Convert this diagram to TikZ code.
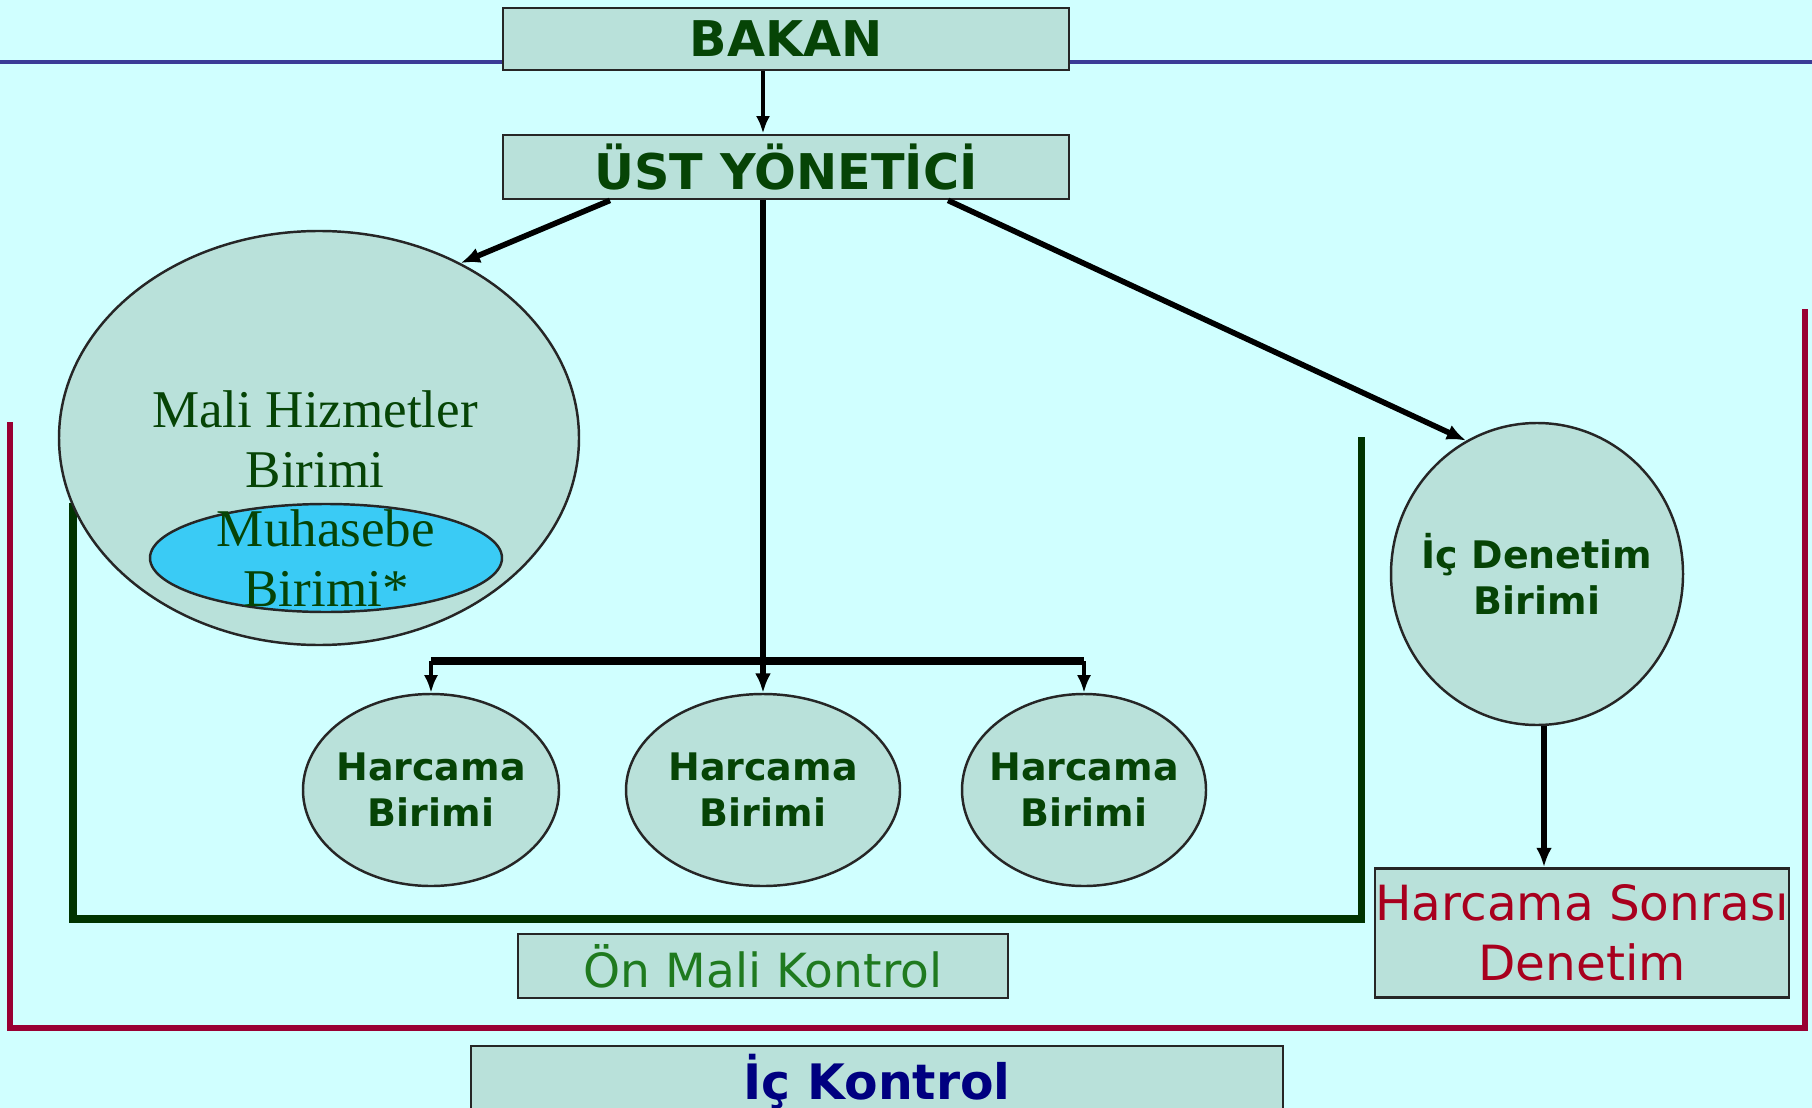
\documentclass[tikz,border=0pt]{standalone}
\usepackage{fontspec}
\setmainfont{DejaVu Sans}
\newfontfamily\mhfont{Liberation Serif}
\usetikzlibrary{shapes.geometric,arrows.meta}

\definecolor{bgcyan}{HTML}{D0FFFF}
\definecolor{boxfill}{HTML}{B9E1DA}
\definecolor{dkgreen}{HTML}{064406}
\definecolor{ongreen}{HTML}{1F7A1F}
\definecolor{bracketgreen}{HTML}{003300}
\definecolor{icred}{HTML}{990033}
\definecolor{hsred}{HTML}{A8001E}
\definecolor{lineblue}{HTML}{3B3B96}
\definecolor{icnavy}{HTML}{000080}
\definecolor{muhcyan}{HTML}{3ACBF5}

\tikzset{
  box/.style={draw=black!85, fill=boxfill, line width=0.8pt, rectangle, inner sep=0pt},
  oval/.style={draw=black!85, fill=boxfill, line width=0.7pt, ellipse, inner sep=0pt},
  head/.style={font=\bfseries\fontsize{14}{16}\selectfont, text=dkgreen},
  unit/.style={font=\bfseries\fontsize{10.8}{13.1}\selectfont, text=dkgreen, align=center},
  serifunit/.style={font=\mhfont\fontsize{15.1}{17.1}\selectfont, text=dkgreen, align=center},
  arr/.style={-{Latex[length=5pt,width=4pt]}, line width=1.1pt},
  bigarr/.style={-{Latex[length=5.5pt,width=4.5pt]}, line width=1.6pt}
}

\begin{document}
\begin{tikzpicture}[x=0.1mm, y=-0.1mm]

    \fill[bgcyan] (0,0) rectangle (1812,1108);
    \useasboundingbox (0,0) rectangle (1812,1108);

    % Brackets
    \draw[icred, line width=1.8pt] (10,422) -- (10,1028) -- (1805,1028) -- (1805,309);
    \draw[bracketgreen, line width=2pt] (73,503) -- (73,919) -- (1361,919) -- (1361,437);

    % Nodes
    \node [box, head, minimum width=56.6mm, minimum height=6.2mm] (bakan) at (786,39) {BAKAN};
    \node [box, head, minimum width=56.6mm, minimum height=6.4mm] (ust) at (786,167) {ÜST YÖNETİCİ};

    \node [oval, minimum width=52mm, minimum height=41.4mm] (mhb) at (319,438) {};
    \node [serifunit] (mhb-txt) at (315,439) {Mali Hizmetler\\Birimi};
    \node [oval, fill=muhcyan, minimum width=35.2mm, minimum height=10.8mm] (muh) at (326,558) {};
    \node [serifunit] (muh-txt) at (muh) {Muhasebe\\Birimi*};

    \node [oval, minimum width=25.6mm, minimum height=19.2mm] (hb1) at (431,790) {};
    \node [unit] (hb1-txt) at (hb1) {Harcama\\Birimi};
    \node [oval, minimum width=27.4mm, minimum height=19.2mm] (hb2) at (763,790) {};
    \node [unit] (hb2-txt) at (hb2) {Harcama\\Birimi};
    \node [oval, minimum width=24.4mm, minimum height=19.2mm] (hb3) at (1084,790) {};
    \node [unit] (hb3-txt) at (hb3) {Harcama\\Birimi};

    \node [oval, minimum width=29.2mm, minimum height=30.2mm] (icd) at (1537,574) {};
    \node [unit] (icd-txt) at (icd) {İç Denetim\\Birimi};

    \node [box, minimum width=41.4mm, minimum height=12.9mm, align=center, text=hsred,
           font=\fontsize{13.8}{17.1}\selectfont] (hsd) at (1582,933) {Harcama Sonrası\\Denetim};
    \node [box, minimum width=49mm, minimum height=6.4mm, text=ongreen,
           font=\fontsize{13.4}{16}\selectfont] (onmk) at (763,966) {Ön Mali Kontrol};
    \node [box, minimum width=81.2mm, minimum height=7.2mm, text=icnavy,
           font=\bfseries\fontsize{13.9}{16}\selectfont] (ick) at (877,1082) {İç Kontrol};

    % Blue line
    \coordinate (bl) at (0,62);
    \coordinate (br) at (1812,62);
    \draw[lineblue, line width=1.4pt] (bl) -- (bl -| bakan.west);
    \draw[lineblue, line width=1.4pt] (bakan.east |- br) -- (br);

    % Arrows
    \coordinate (split) at (763,661);
    \draw[arr] (bakan.south -| hb2.north) -- (ust.north -| hb2.north);
    \draw[bigarr] ([xshift=-17.6mm]ust.south) -- (mhb.51);
    \draw[bigarr] ([xshift=16.2mm]ust.south) -- (icd.118);
    \draw[line width=2.2pt] (hb1.north |- split) -- (hb3.north |- split);
    \draw[bigarr] (ust.south -| hb2.north) -- (hb2.north);
    \draw[arr] (hb1.north |- split) -- (hb1.north);
    \draw[arr] (hb3.north |- split) -- (hb3.north);
    \draw[bigarr] ([xshift=0.7mm]icd.south) -- ([xshift=0.7mm]icd.south |- hsd.north);

\end{tikzpicture}
\end{document}
